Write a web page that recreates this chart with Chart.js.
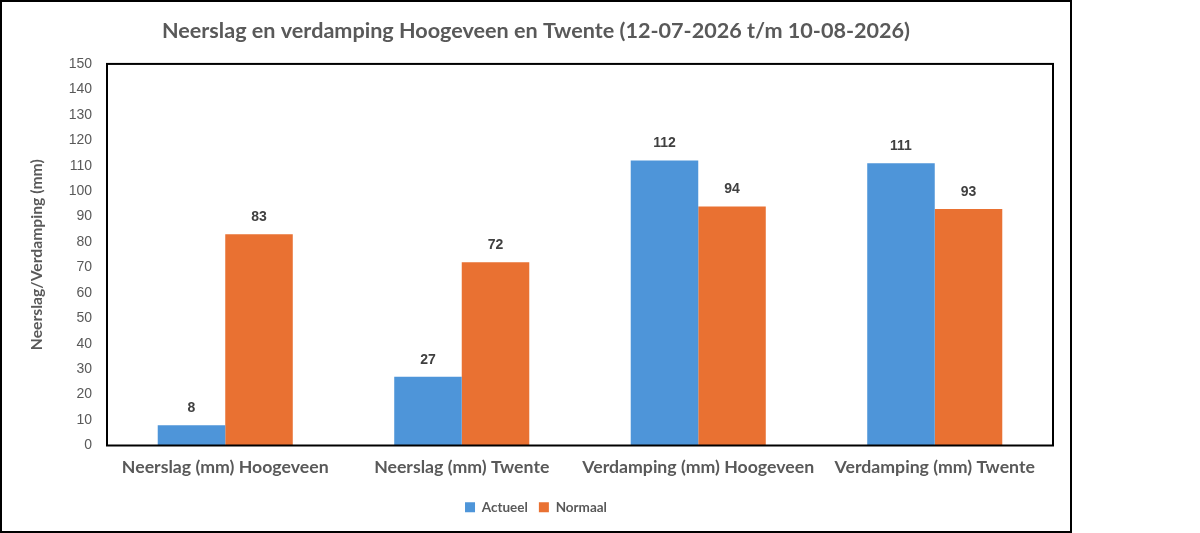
<!DOCTYPE html>
<html>
<head>
<meta charset="utf-8">
<script src="https://cdn.jsdelivr.net/npm/chart.js@4"></script>
<style>
  body { margin: 0; background: #fff; }
  #wrap { position: absolute; left: 0; top: 0; width: 1072px; height: 533px; }
</style>
</head>
<body>
<div id="wrap"><canvas id="chart"></canvas></div>
<script>
const categories = [
  'Neerslag (mm) Hoogeveen',
  'Neerslag (mm) Twente',
  'Verdamping (mm) Hoogeveen',
  'Verdamping (mm) Twente'
];
const actueel = [8, 27, 112, 111];
const normaal = [83, 72, 94, 93];
const seriesNames = ['Actueel', 'Normaal'];

// frames around the whole chart and the plot area
const frames = {
  id: 'frames',
  afterDraw(chart) {
    const ctx = chart.ctx;
    const a = chart.chartArea;
    ctx.save();
    ctx.strokeStyle = '#000';
    ctx.lineWidth = 2;
    ctx.strokeRect(a.left, a.top, a.right - a.left, a.bottom - a.top);
    ctx.strokeRect(1, 1, chart.width - 2, chart.height - 2);
    ctx.restore();
  }
};

// value labels above the bars
const valueLabels = {
  id: 'valueLabels',
  afterDatasetsDraw(chart) {
    const ctx = chart.ctx;
    ctx.save();
    ctx.font = 'bold 14px "Liberation Sans", Arial, sans-serif';
    ctx.fillStyle = '#404040';
    ctx.textAlign = 'center';
    ctx.textBaseline = 'middle';
    chart.data.datasets.forEach((ds, i) => {
      chart.getDatasetMeta(i).data.forEach((bar, j) => {
        ctx.fillText(ds.data[j], bar.x, bar.y - 17);
      });
    });
    ctx.restore();
  }
};

new Chart(document.getElementById('chart'), {
  type: 'bar',
  data: {
    labels: categories,
    datasets: [
      { label: seriesNames[0], data: actueel, backgroundColor: '#4E95D9' },
      { label: seriesNames[1], data: normaal, backgroundColor: '#E97132' }
    ]
  },
  options: {
    responsive: true,
    maintainAspectRatio: false,
    animation: false,
    categoryPercentage: 0.571,
    barPercentage: 1.0,
    layout: { padding: { left: 0, right: 0, top: 0, bottom: 9 } },
    plugins: {
      title: {
        display: true,
        text: 'Neerslag en verdamping Hoogeveen en Twente (12-07-2026 t/m 10-08-2026)',
        color: '#595959',
        font: { family: 'Lato', size: 21.6, weight: 'bold', lineHeight: 1.2 },
        padding: { top: 18, bottom: 20 }
      },
      legend: {
        position: 'bottom',
        labels: {
          color: '#595959',
          font: { family: 'Lato', size: 13.5, weight: 'bold' },
          boxWidth: 10,
          boxHeight: 10,
          padding: 11
        }
      },
      tooltip: { enabled: false }
    },
    scales: {
      x: {
        grid: { display: false, drawTicks: false },
        border: { display: false },
        ticks: {
          color: '#595959',
          font: { family: 'Lato', size: 17.7, weight: 'bold' },
          padding: 11,
          maxRotation: 0
        },
        afterFit(scale) { scale.height = 44; }
      },
      y: {
        min: 0,
        max: 150,
        grid: { display: false, drawTicks: false },
        border: { display: false },
        ticks: {
          stepSize: 10,
          color: '#595959',
          font: { family: '"Liberation Sans", Arial, sans-serif', size: 14 },
          padding: 15
        },
        title: {
          display: true,
          text: 'Neerslag/Verdamping (mm)',
          color: '#595959',
          font: { family: 'Lato', size: 15.7, weight: 'bold' },
          padding: { top: 28, bottom: 0 }
        },
        afterFit(scale) { scale.width = 107; }
      },
      // empty right-hand margin so the title and legend stay centred on the frame
      yRight: {
        position: 'right',
        grid: { display: false, drawTicks: false },
        border: { display: false },
        ticks: { display: false },
        afterFit(scale) { scale.width = 19; }
      }
    }
  },
  plugins: [frames, valueLabels]
});
</script>
</body>
</html>
